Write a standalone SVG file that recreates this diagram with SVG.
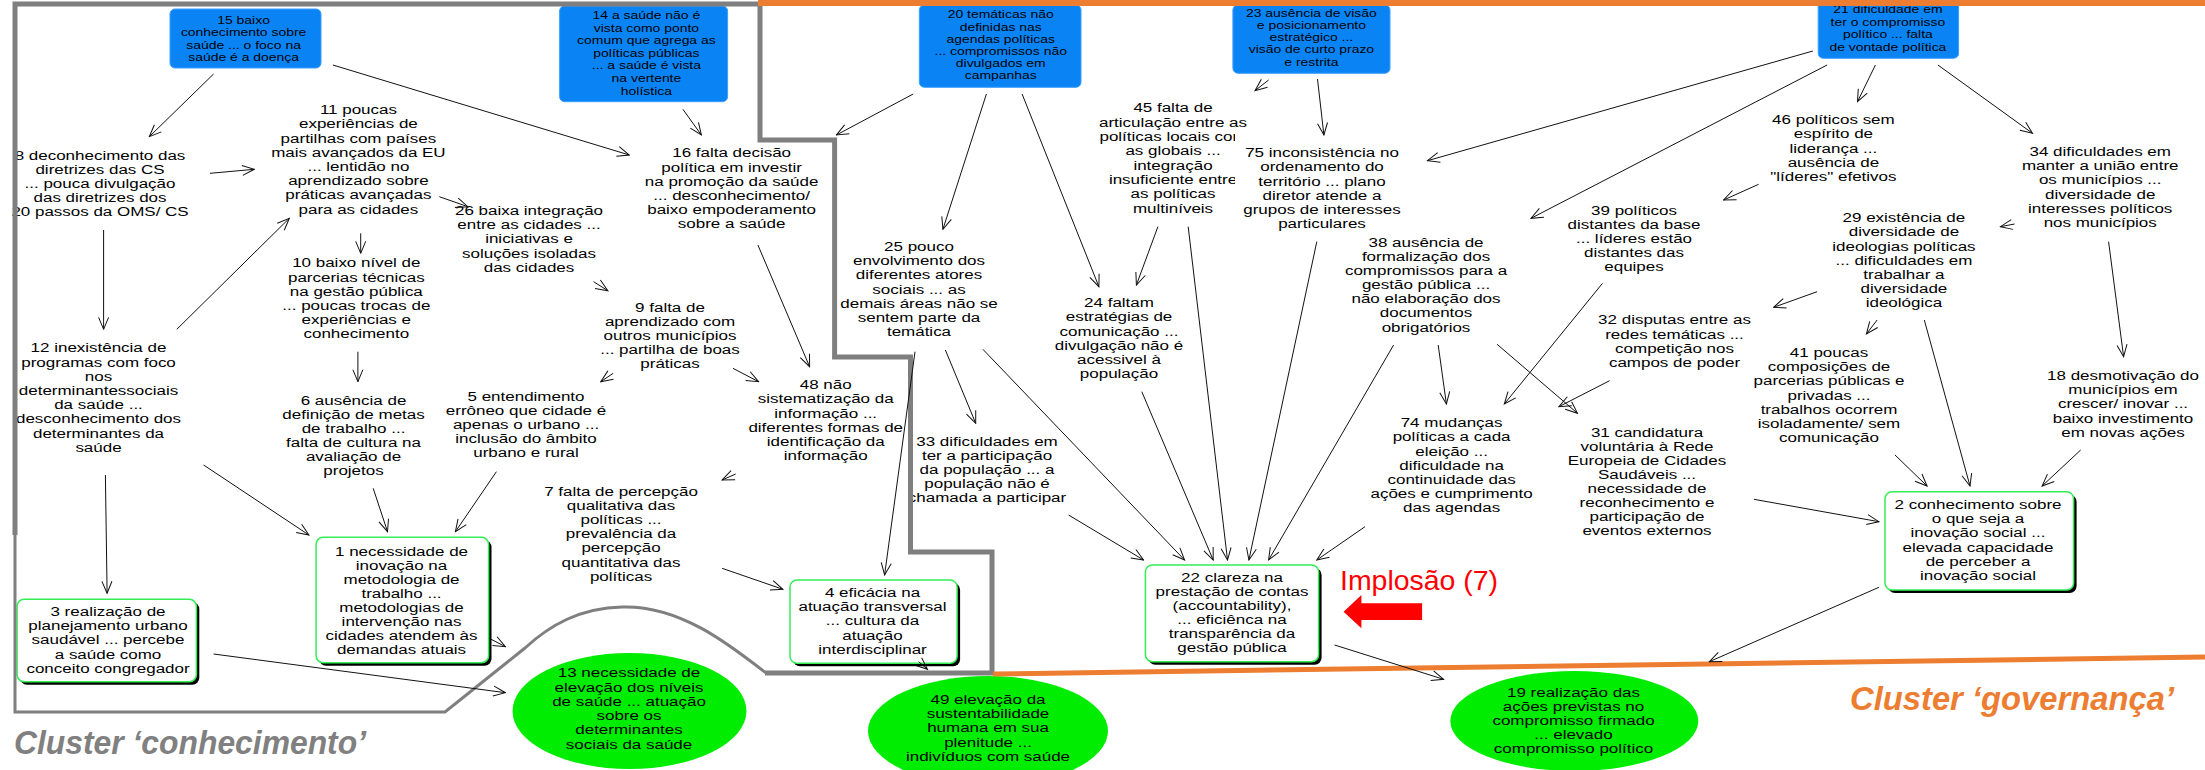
<svg xmlns="http://www.w3.org/2000/svg" width="2205" height="770" viewBox="0 0 2205 770">
<style>
.t{font-family:"Liberation Sans",Arial,Helvetica,sans-serif;font-size:12px;fill:#000;text-anchor:middle}
.tb{font-family:"Liberation Sans",Arial,Helvetica,sans-serif;font-size:10.5px;fill:#000;text-anchor:middle}
.blue{fill:#0A84F5;stroke:#3D9EFF;stroke-width:1}
.gbox{fill:#fff;stroke:#33EE55;stroke-width:1.5}
.shadow{fill:#000}
.ell{fill:#00EC00}
.c line{stroke:#111;stroke-width:1;fill:none;marker-end:url(#ah)}
.gray{fill:none;stroke:#7F7F7F;stroke-linejoin:miter}
.orange{fill:none;stroke:#ED7D31}
.cl{font-family:"Liberation Sans",Arial,sans-serif;font-size:34px;font-weight:bold;font-style:italic}
</style>
<defs>
<marker id="ah" viewBox="-1 -1 14 12" refX="12" refY="5" markerWidth="14" markerHeight="12" orient="auto" markerUnits="userSpaceOnUse">
<path d="M0,0 L12,5 L0,10" fill="none" stroke="#111" stroke-width="1"/>
</marker>
</defs>
<rect width="2205" height="770" fill="#fff"/>

<!-- nodes -->
<g id="n15"><rect class="blue" x="170" y="9" width="151" height="59" rx="5"/>
<text class="tb" transform="translate(243.6 0) scale(1.328 1)"><tspan x="0" y="24.2">15 baixo</tspan><tspan x="0" y="36.5">conhecimento sobre</tspan><tspan x="0" y="48.8">saúde ... o foco na</tspan><tspan x="0" y="61.1">saúde é a doença</tspan></text></g>

<g id="n14"><rect class="blue" x="559.6" y="6" width="168" height="95.7" rx="5"/>
<text class="tb" transform="translate(646.4 0) scale(1.328 1)"><tspan x="0" y="19">14 a saúde não é</tspan><tspan x="0" y="31.6">vista como ponto</tspan><tspan x="0" y="44.2">comum que agrega as</tspan><tspan x="0" y="56.8">políticas públicas</tspan><tspan x="0" y="69.4">... a saúde é vista</tspan><tspan x="0" y="82">na vertente</tspan><tspan x="0" y="94.6">holística</tspan></text></g>

<g id="n20"><rect class="blue" x="919.3" y="5" width="161.7" height="82.3" rx="5"/>
<text class="tb" transform="translate(1000.7 0) scale(1.328 1)"><tspan x="0" y="18.5">20 temáticas não</tspan><tspan x="0" y="30.6">definidas nas</tspan><tspan x="0" y="42.8">agendas políticas</tspan><tspan x="0" y="54.9">... compromissos não</tspan><tspan x="0" y="67.1">divulgados em</tspan><tspan x="0" y="79.2">campanhas</tspan></text></g>

<g id="n23"><rect class="blue" x="1232.9" y="5" width="157.1" height="68.3" rx="5"/>
<text class="tb" transform="translate(1311.4 0) scale(1.328 1)"><tspan x="0" y="16.8">23 ausência de visão</tspan><tspan x="0" y="29">e posicionamento</tspan><tspan x="0" y="41.3">estratégico ...</tspan><tspan x="0" y="53.5">visão de curto prazo</tspan><tspan x="0" y="65.8">e restrita</tspan></text></g>

<g id="n21"><rect class="blue" x="1818.2" y="0" width="140.4" height="58.3" rx="5"/>
<text class="tb" transform="translate(1887.9 0) scale(1.328 1)"><tspan x="0" y="13.5">21 dificuldade em</tspan><tspan x="0" y="26">ter o compromisso</tspan><tspan x="0" y="38.5">político ... falta</tspan><tspan x="0" y="51">de vontade política</tspan></text></g>

<g id="n8"><text class="t" transform="translate(100 0) scale(1.415 1)"><tspan x="0" y="160">8 deconhecimento das</tspan><tspan x="0" y="174">diretrizes das CS</tspan><tspan x="0" y="188">... pouca divulgação</tspan><tspan x="0" y="202">das diretrizes dos</tspan><tspan x="0" y="216">20 passos da OMS/ CS</tspan></text></g>

<g id="n11"><text class="t" transform="translate(358.4 0) scale(1.415 1)"><tspan x="0" y="114.3">11 poucas</tspan><tspan x="0" y="128.5">experiências de</tspan><tspan x="0" y="142.7">partilhas com países</tspan><tspan x="0" y="156.9">mais avançados da EU</tspan><tspan x="0" y="171.1">... lentidão no</tspan><tspan x="0" y="185.3">aprendizado sobre</tspan><tspan x="0" y="199.5">práticas avançadas</tspan><tspan x="0" y="213.7">para as cidades</tspan></text></g>

<g id="n26"><text class="t" transform="translate(529 0) scale(1.415 1)"><tspan x="0" y="215">26 baixa integração</tspan><tspan x="0" y="229.2">entre as cidades ...</tspan><tspan x="0" y="243.4">iniciativas e</tspan><tspan x="0" y="257.6">soluções isoladas</tspan><tspan x="0" y="271.8">das cidades</tspan></text></g>

<g id="n10"><text class="t" transform="translate(356.3 0) scale(1.415 1)"><tspan x="0" y="267.5">10 baixo nível de</tspan><tspan x="0" y="281.6">parcerias técnicas</tspan><tspan x="0" y="295.7">na gestão pública</tspan><tspan x="0" y="309.8">... poucas trocas de</tspan><tspan x="0" y="323.9">experiências e</tspan><tspan x="0" y="338">conhecimento</tspan></text></g>

<g id="n12"><text class="t" transform="translate(98.5 0) scale(1.415 1)"><tspan x="0" y="352.5">12 inexistência de</tspan><tspan x="0" y="366.7">programas com foco</tspan><tspan x="0" y="380.9">nos</tspan><tspan x="0" y="395.1">determinantessociais</tspan><tspan x="0" y="409.3">da saúde ...</tspan><tspan x="0" y="423.5">desconhecimento dos</tspan><tspan x="0" y="437.7">determinantes da</tspan><tspan x="0" y="451.9">saúde</tspan></text></g>

<g id="n6"><text class="t" transform="translate(353.5 0) scale(1.415 1)"><tspan x="0" y="404.7">6 ausência de</tspan><tspan x="0" y="418.8">definição de metas</tspan><tspan x="0" y="432.9">de trabalho ...</tspan><tspan x="0" y="447">falta de cultura na</tspan><tspan x="0" y="461.1">avaliação de</tspan><tspan x="0" y="475.2">projetos</tspan></text></g>

<g id="n5"><text class="t" transform="translate(526 0) scale(1.415 1)"><tspan x="0" y="400.7">5 entendimento</tspan><tspan x="0" y="414.9">errôneo que cidade é</tspan><tspan x="0" y="429.1">apenas o urbano ...</tspan><tspan x="0" y="443.3">inclusão do âmbito</tspan><tspan x="0" y="457.5">urbano e rural</tspan></text></g>

<g id="n9"><text class="t" transform="translate(670 0) scale(1.415 1)"><tspan x="0" y="311.7">9 falta de</tspan><tspan x="0" y="325.9">aprendizado com</tspan><tspan x="0" y="340.1">outros municípios</tspan><tspan x="0" y="354.3">... partilha de boas</tspan><tspan x="0" y="368.5">práticas</tspan></text></g>

<g id="n16"><text class="t" transform="translate(731.6 0) scale(1.415 1)"><tspan x="0" y="157.5">16 falta decisão</tspan><tspan x="0" y="171.6">política em investir</tspan><tspan x="0" y="185.7">na promoção da saúde</tspan><tspan x="0" y="199.8">... desconhecimento/</tspan><tspan x="0" y="213.9">baixo empoderamento</tspan><tspan x="0" y="228">sobre a saúde</tspan></text></g>

<g id="n48"><text class="t" transform="translate(825.7 0) scale(1.415 1)"><tspan x="0" y="389">48 não</tspan><tspan x="0" y="403.3">sistematização da</tspan><tspan x="0" y="417.6">informação ...</tspan><tspan x="0" y="431.9">diferentes formas de</tspan><tspan x="0" y="446.2">identificação da</tspan><tspan x="0" y="460.5">informação</tspan></text></g>

<g id="n7"><text class="t" transform="translate(621 0) scale(1.415 1)"><tspan x="0" y="495.7">7 falta de percepção</tspan><tspan x="0" y="509.9">qualitativa das</tspan><tspan x="0" y="524.1">políticas ...</tspan><tspan x="0" y="538.3">prevalência da</tspan><tspan x="0" y="552.5">percepção</tspan><tspan x="0" y="566.7">quantitativa das</tspan><tspan x="0" y="580.9">políticas</tspan></text></g>

<g id="n25"><text class="t" transform="translate(919 0) scale(1.415 1)"><tspan x="0" y="250.7">25 pouco</tspan><tspan x="0" y="265">envolvimento dos</tspan><tspan x="0" y="279.3">diferentes atores</tspan><tspan x="0" y="293.6">sociais ... as</tspan><tspan x="0" y="307.9">demais áreas não se</tspan><tspan x="0" y="322.2">sentem parte da</tspan><tspan x="0" y="336.5">temática</tspan></text></g>

<g id="n33"><text class="t" transform="translate(987 0) scale(1.415 1)"><tspan x="0" y="445.7">33 dificuldades em</tspan><tspan x="0" y="459.9">ter a participação</tspan><tspan x="0" y="474.1">da população ... a</tspan><tspan x="0" y="488.3">população não é</tspan><tspan x="0" y="502.5">chamada a participar</tspan></text></g>

<g id="n24"><text class="t" transform="translate(1119 0) scale(1.415 1)"><tspan x="0" y="307.3">24 faltam</tspan><tspan x="0" y="321.5">estratégias de</tspan><tspan x="0" y="335.7">comunicação ...</tspan><tspan x="0" y="349.9">divulgação não é</tspan><tspan x="0" y="364.1">acessivel à</tspan><tspan x="0" y="378.3">população</tspan></text></g>

<g id="n45"><text class="t" transform="translate(1173 0) scale(1.415 1)"><tspan x="0" y="112.5">45 falta de</tspan><tspan x="0" y="126.8">articulação entre as</tspan><tspan x="0" y="141.1">políticas locais com</tspan><tspan x="0" y="155.4">as globais ...</tspan><tspan x="0" y="169.7">integração</tspan><tspan x="0" y="184">insuficiente entre</tspan><tspan x="0" y="198.3">as políticas</tspan><tspan x="0" y="212.6">multiníveis</tspan></text></g>

<g id="n75"><rect x="1235" y="133" width="178" height="100" fill="#fff"/>
<text class="t" transform="translate(1322 0) scale(1.415 1)"><tspan x="0" y="157">75 inconsistência no</tspan><tspan x="0" y="171.3">ordenamento do</tspan><tspan x="0" y="185.6">território ... plano</tspan><tspan x="0" y="199.9">diretor atende a</tspan><tspan x="0" y="214.2">grupos de interesses</tspan><tspan x="0" y="228.5">particulares</tspan></text></g>

<g id="n38"><text class="t" transform="translate(1426 0) scale(1.415 1)"><tspan x="0" y="247">38 ausência de</tspan><tspan x="0" y="261.1">formalização dos</tspan><tspan x="0" y="275.2">compromissos para a</tspan><tspan x="0" y="289.3">gestão pública ...</tspan><tspan x="0" y="303.4">não elaboração dos</tspan><tspan x="0" y="317.5">documentos</tspan><tspan x="0" y="331.6">obrigatórios</tspan></text></g>

<g id="n74"><text class="t" transform="translate(1451.6 0) scale(1.415 1)"><tspan x="0" y="427.3">74 mudanças</tspan><tspan x="0" y="441.5">políticas a cada</tspan><tspan x="0" y="455.7">eleição ...</tspan><tspan x="0" y="469.9">dificuldade na</tspan><tspan x="0" y="484.1">continuidade das</tspan><tspan x="0" y="498.3">ações e cumprimento</tspan><tspan x="0" y="512.5">das agendas</tspan></text></g>

<g id="n39"><text class="t" transform="translate(1634 0) scale(1.415 1)"><tspan x="0" y="215">39 políticos</tspan><tspan x="0" y="228.9">distantes da base</tspan><tspan x="0" y="242.8">... líderes estão</tspan><tspan x="0" y="256.7">distantes das</tspan><tspan x="0" y="270.6">equipes</tspan></text></g>

<g id="n32"><text class="t" transform="translate(1674.5 0) scale(1.415 1)"><tspan x="0" y="324.3">32 disputas entre as</tspan><tspan x="0" y="338.6">redes temáticas ...</tspan><tspan x="0" y="352.9">competição nos</tspan><tspan x="0" y="367.2">campos de poder</tspan></text></g>

<g id="n31"><text class="t" transform="translate(1647 0) scale(1.415 1)"><tspan x="0" y="436.7">31 candidatura</tspan><tspan x="0" y="450.8">voluntária à Rede</tspan><tspan x="0" y="464.9">Europeia de Cidades</tspan><tspan x="0" y="479">Saudáveis ...</tspan><tspan x="0" y="493.1">necessidade de</tspan><tspan x="0" y="507.2">reconhecimento e</tspan><tspan x="0" y="521.3">participação de</tspan><tspan x="0" y="535.4">eventos externos</tspan></text></g>

<g id="n46"><text class="t" transform="translate(1833.4 0) scale(1.415 1)"><tspan x="0" y="124">46 políticos sem</tspan><tspan x="0" y="138.3">espírito de</tspan><tspan x="0" y="152.6">liderança ...</tspan><tspan x="0" y="166.9">ausência de</tspan><tspan x="0" y="181.2">"líderes" efetivos</tspan></text></g>

<g id="n34"><text class="t" transform="translate(2100.2 0) scale(1.415 1)"><tspan x="0" y="156">34 dificuldades em</tspan><tspan x="0" y="170.2">manter a união entre</tspan><tspan x="0" y="184.4">os municípios ...</tspan><tspan x="0" y="198.6">diversidade de</tspan><tspan x="0" y="212.8">interesses políticos</tspan><tspan x="0" y="227">nos municípios</tspan></text></g>

<g id="n29"><text class="t" transform="translate(1903.9 0) scale(1.415 1)"><tspan x="0" y="222.3">29 existência de</tspan><tspan x="0" y="236.5">diversidade de</tspan><tspan x="0" y="250.7">ideologias políticas</tspan><tspan x="0" y="264.9">... dificuldades em</tspan><tspan x="0" y="279.1">trabalhar a</tspan><tspan x="0" y="293.3">diversidade</tspan><tspan x="0" y="307.5">ideológica</tspan></text></g>

<g id="n41"><text class="t" transform="translate(1829 0) scale(1.415 1)"><tspan x="0" y="356.7">41 poucas</tspan><tspan x="0" y="371">composições de</tspan><tspan x="0" y="385.3">parcerias públicas e</tspan><tspan x="0" y="399.6">privadas ...</tspan><tspan x="0" y="413.9">trabalhos ocorrem</tspan><tspan x="0" y="428.2">isoladamente/ sem</tspan><tspan x="0" y="442.5">comunicação</tspan></text></g>

<g id="n18"><text class="t" transform="translate(2123 0) scale(1.415 1)"><tspan x="0" y="380">18 desmotivação do</tspan><tspan x="0" y="394.2">municípios em</tspan><tspan x="0" y="408.4">crescer/ inovar ...</tspan><tspan x="0" y="422.6">baixo investimento</tspan><tspan x="0" y="436.8">em novas ações</tspan></text></g>

<g id="n3"><rect class="shadow" x="20" y="602.3" width="179.3" height="82.4" rx="7"/><rect class="gbox" x="17.1" y="599.3" width="179.3" height="82.4" rx="7"/>
<text class="t" transform="translate(108 0) scale(1.415 1)"><tspan x="0" y="615.7">3 realização de</tspan><tspan x="0" y="630.1">planejamento urbano</tspan><tspan x="0" y="644.5">saudável ... percebe</tspan><tspan x="0" y="658.9">a saúde como</tspan><tspan x="0" y="673.3">conceito congregador</tspan></text></g>

<g id="n1"><rect class="shadow" x="319" y="540.3" width="172.5" height="125.4" rx="7"/><rect class="gbox" x="316.1" y="537.3" width="172.5" height="125.4" rx="7"/>
<text class="t" transform="translate(401.5 0) scale(1.415 1)"><tspan x="0" y="555.7">1 necessidade de</tspan><tspan x="0" y="569.8">inovação na</tspan><tspan x="0" y="583.9">metodologia de</tspan><tspan x="0" y="598">trabalho ...</tspan><tspan x="0" y="612.1">metodologias de</tspan><tspan x="0" y="626.2">intervenção nas</tspan><tspan x="0" y="640.3">cidades atendem às</tspan><tspan x="0" y="654.4">demandas atuais</tspan></text></g>

<g id="n4"><rect class="shadow" x="793" y="583" width="167.1" height="83.3" rx="7"/><rect class="gbox" x="790" y="580" width="167.1" height="83.3" rx="7"/>
<text class="t" transform="translate(872.5 0) scale(1.415 1)"><tspan x="0" y="596.7">4 eficácia na</tspan><tspan x="0" y="611">atuação transversal</tspan><tspan x="0" y="625.3">... cultura da</tspan><tspan x="0" y="639.6">atuação</tspan><tspan x="0" y="653.9">interdisciplinar</tspan></text></g>

<g id="n22"><rect class="shadow" x="1148.4" y="568" width="173.2" height="96.7" rx="7"/><rect class="gbox" x="1145.4" y="565" width="173.2" height="96.7" rx="7"/>
<text class="t" transform="translate(1232 0) scale(1.415 1)"><tspan x="0" y="582.3">22 clareza na</tspan><tspan x="0" y="596.3">prestação de contas</tspan><tspan x="0" y="610.3">(accountability),</tspan><tspan x="0" y="624.3">... eficiênca na</tspan><tspan x="0" y="638.3">transparência da</tspan><tspan x="0" y="652.3">gestão pública</tspan></text></g>

<g id="n2"><rect class="shadow" x="1888" y="494.7" width="188.6" height="98.3" rx="7"/><rect class="gbox" x="1885" y="491.7" width="188.6" height="98.3" rx="7"/>
<text class="t" transform="translate(1978 0) scale(1.415 1)"><tspan x="0" y="509">2 conhecimento sobre</tspan><tspan x="0" y="523.2">o que seja a</tspan><tspan x="0" y="537.4">inovação social ...</tspan><tspan x="0" y="551.6">elevada capacidade</tspan><tspan x="0" y="565.8">de perceber a</tspan><tspan x="0" y="580">inovação social</tspan></text></g>

<g id="n13"><ellipse class="ell" cx="629.5" cy="711" rx="117" ry="58"/>
<text class="t" transform="translate(629 0) scale(1.415 1)"><tspan x="0" y="677.3">13 necessidade de</tspan><tspan x="0" y="691.6">elevação dos níveis</tspan><tspan x="0" y="705.9">de saúde ... atuação</tspan><tspan x="0" y="720.2">sobre os</tspan><tspan x="0" y="734.5">determinantes</tspan><tspan x="0" y="748.8">sociais da saúde</tspan></text></g>

<g id="n49"><ellipse class="ell" cx="988" cy="731" rx="120" ry="55"/>
<text class="t" transform="translate(988 0) scale(1.415 1)"><tspan x="0" y="704">49 elevação da</tspan><tspan x="0" y="718.2">sustentabilidade</tspan><tspan x="0" y="732.4">humana em sua</tspan><tspan x="0" y="746.6">plenitude ...</tspan><tspan x="0" y="760.8">indivíduos com saúde</tspan></text></g>

<g id="n19"><ellipse class="ell" cx="1574.3" cy="721" rx="124" ry="50"/>
<text class="t" transform="translate(1573.5 0) scale(1.415 1)"><tspan x="0" y="696.7">19 realização das</tspan><tspan x="0" y="710.9">ações previstas no</tspan><tspan x="0" y="725.1">compromisso firmado</tspan><tspan x="0" y="739.3">... elevado</tspan><tspan x="0" y="753.5">compromisso político</tspan></text></g>

<!-- cluster boundaries -->
<g id="clusters">
<path class="gray" stroke-width="5" d="M15,535 L15,4 L760,4 L760,140 L834.6,140 L834.6,357 L910.5,357 L910.5,552 L992,552 L992,673 L765,673"/>
<path class="gray" stroke-width="3" d="M15,533 L15,712 L445,712 L525,648 C550,625 580,608 622,607 C680,605 730,645 766,673"/>
<path class="orange" stroke-width="6" d="M758,3 L2205,3"/>
<path class="orange" stroke-width="5" d="M993,674 L2205,657"/>
</g>

<!-- connectors -->
<g id="connectors" class="c">
<line x1="213.6" y1="74" x2="149.3" y2="136.7"/>
<line x1="332.9" y1="65" x2="629.3" y2="155"/>
<line x1="682.9" y1="109.3" x2="701.4" y2="135"/>
<line x1="210" y1="173.3" x2="254.3" y2="169.3"/>
<line x1="103.6" y1="230" x2="103.6" y2="329.3"/>
<line x1="439.3" y1="196.7" x2="467.9" y2="206.7"/>
<line x1="360.7" y1="233.3" x2="360.7" y2="253.3"/>
<line x1="176.8" y1="329.3" x2="289.3" y2="218.3"/>
<line x1="357.9" y1="351.7" x2="357.9" y2="381.7"/>
<line x1="593.6" y1="281.7" x2="607.9" y2="290.7"/>
<line x1="613.2" y1="373.3" x2="600.7" y2="381.7"/>
<line x1="732.9" y1="368.3" x2="758.6" y2="381.7"/>
<line x1="757.9" y1="245" x2="809.6" y2="366.7"/>
<line x1="735.7" y1="474" x2="722.1" y2="480"/>
<line x1="722.1" y1="568.3" x2="782.9" y2="589.3"/>
<line x1="105.4" y1="475" x2="107.1" y2="593.3"/>
<line x1="203.6" y1="465" x2="308.9" y2="535"/>
<line x1="373.2" y1="488.3" x2="387.5" y2="531.7"/>
<line x1="496.4" y1="471.7" x2="455.4" y2="531.7"/>
<line x1="489.3" y1="638.3" x2="505.4" y2="646.7"/>
<line x1="213.6" y1="654" x2="505.4" y2="692.7"/>
<line x1="918.6" y1="661.7" x2="927.5" y2="669.3"/>
<line x1="913.2" y1="94" x2="836.4" y2="135"/>
<line x1="986.4" y1="94" x2="942.9" y2="229.3"/>
<line x1="1022.1" y1="94" x2="1098.9" y2="286.7"/>
<line x1="915" y1="351.7" x2="884.6" y2="575"/>
<line x1="945.4" y1="350" x2="975.7" y2="423.3"/>
<line x1="982.9" y1="349.3" x2="1184.6" y2="560"/>
<line x1="1068.6" y1="515" x2="1143.6" y2="560"/>
<line x1="1141.8" y1="391.7" x2="1213.2" y2="560"/>
<line x1="1157.9" y1="226.7" x2="1136.4" y2="285"/>
<line x1="1188.2" y1="226.7" x2="1227.5" y2="560"/>
<line x1="1316.8" y1="241.7" x2="1248.9" y2="560"/>
<line x1="1393.6" y1="345" x2="1268.6" y2="560"/>
<line x1="1365" y1="526.7" x2="1316.8" y2="560"/>
<line x1="1268.6" y1="80" x2="1255" y2="90.7"/>
<line x1="1317.5" y1="79" x2="1323.9" y2="135"/>
<line x1="1812.9" y1="51" x2="1427.5" y2="160.7"/>
<line x1="1827.1" y1="65" x2="1531" y2="218.3"/>
<line x1="1875.4" y1="65" x2="1857.5" y2="101.7"/>
<line x1="1937.9" y1="65" x2="2032.5" y2="133.3"/>
<line x1="1758.6" y1="184.3" x2="1723.6" y2="200"/>
<line x1="1602.5" y1="283.3" x2="1504.3" y2="404"/>
<line x1="1438.2" y1="345" x2="1446.4" y2="404"/>
<line x1="1497.1" y1="344.3" x2="1577.5" y2="413.3"/>
<line x1="1609.6" y1="380.7" x2="1558.9" y2="406.7"/>
<line x1="1817.1" y1="291.7" x2="1773.6" y2="307.3"/>
<line x1="1877.1" y1="320" x2="1866.4" y2="334"/>
<line x1="1924.3" y1="320" x2="1970" y2="486"/>
<line x1="1895" y1="455" x2="1927.1" y2="486"/>
<line x1="2080.7" y1="450" x2="2042.1" y2="486"/>
<line x1="1753.9" y1="499.3" x2="1878.9" y2="521.7"/>
<line x1="2014.6" y1="224" x2="2000.4" y2="226.7"/>
<line x1="2108.6" y1="241.7" x2="2123.6" y2="356.7"/>
<line x1="1878.9" y1="587.3" x2="1709.3" y2="661.7"/>
<line x1="1334.6" y1="645" x2="1443.6" y2="679.3"/>
</g>

<!-- annotations -->
<g id="implosao">
<text x="1340" y="590" font-family="Liberation Sans, Arial, sans-serif" font-size="28" fill="#FF0000" textLength="158" lengthAdjust="spacingAndGlyphs">Implosão (7)</text>
<polygon points="1343.6,611.7 1361.4,595 1361.4,603.3 1422.1,603.3 1422.1,620 1361.4,620 1361.4,628.3" fill="#FF0000"/>
</g>
<text class="cl" x="14" y="754" fill="#808080" textLength="352" lengthAdjust="spacingAndGlyphs">Cluster ‘conhecimento’</text>
<text class="cl" x="1850" y="710" fill="#ED7D31" textLength="324" lengthAdjust="spacingAndGlyphs">Cluster ‘governança’</text>
</svg>
